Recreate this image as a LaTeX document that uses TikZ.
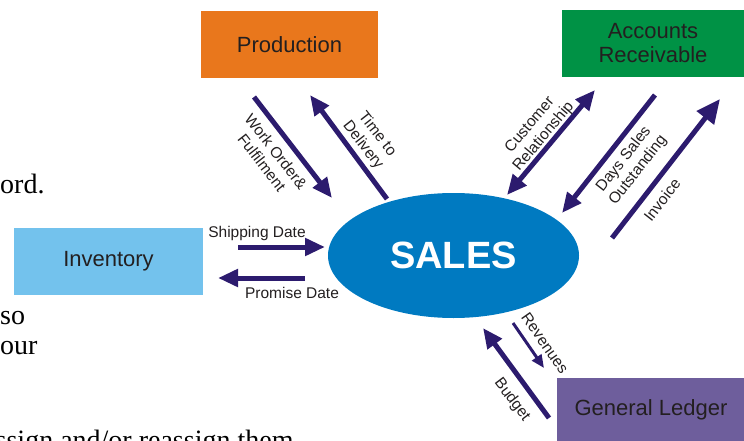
\documentclass[tikz,border=0pt]{standalone}
\usepackage{fontspec}
\setmainfont{Liberation Sans}
\newfontfamily\pageserif{Liberation Serif}
\usetikzlibrary{arrows.meta,positioning,shapes.geometric}
\definecolor{salesBlue}{RGB}{0, 122, 193}
\definecolor{salesOrange}{RGB}{233, 119, 28}
\definecolor{salesGreen}{RGB}{0, 146, 69}
\definecolor{salesLightBlue}{RGB}{115, 194, 237}
\definecolor{salesPurple}{RGB}{110, 94, 156}
\definecolor{salesIndigo}{RGB}{44, 27, 110}
\definecolor{salesText}{RGB}{35, 31, 32}

\begin{document}
\begin{tikzpicture}[
  x=1pt, y=-1pt,
  dept/.style={
    inner sep=0pt,
    align=center,
    text=salesText,
    font=\fontsize{22}{24}\selectfont
  },
  hub/.style={
    ellipse,
    fill=salesBlue,
    inner sep=0pt,
    minimum width=251pt,
    minimum height=125pt,
    text=white,
    font=\fontsize{38}{40}\selectfont\bfseries
  },
  flow/.style={-{Triangle[length=20pt,width=17pt]},line width=5pt,salesIndigo},
  thinflow/.style={-{Triangle[length=13pt,width=11pt]},line width=3pt,salesIndigo},
  flowlabel/.style={inner sep=0pt,align=center,text=salesText,font=\fontsize{15.5}{18}\selectfont},
  pagetext/.style={anchor=base west,inner sep=0pt,font=\pageserif\fontsize{28}{30}\selectfont}
]
  \clip (0,0) rectangle (744,441);

  \node[pagetext] (p1) at (0,193) {ord.};
  \node[pagetext] (p2) at (0,324) {so};
  \node[pagetext] (p3) at (0,354) {our};
  \node[pagetext] (p4) at (-4.5,449) {ssign and/or reassign them};

  \node[dept,fill=salesOrange,minimum width=177pt,minimum height=67pt] (production) at (289.5,44.5) {Production};
  \node[dept,fill=salesGreen,minimum width=182pt,minimum height=67pt] (receivable) at (653,43.5) {Accounts\\Receivable};
  \node[dept,fill=salesLightBlue,minimum width=189pt,minimum height=67pt] (inventory) at (108.5,261.5) {Inventory};
  \node[dept,fill=salesPurple,minimum width=188pt,minimum height=64pt] (ledger) at (651,410) {General Ledger};
  \node[hub] (sales) at (453.5,255.5) {SALES};

  \coordinate (wo-s) at (254,97);  \coordinate (wo-e) at (332,198);
  \coordinate (td-s) at (387,199); \coordinate (td-e) at (310,95);
  \coordinate (cr-s) at (507,195); \coordinate (cr-e) at (595,90);
  \coordinate (ds-s) at (655,95);  \coordinate (ds-e) at (562,213);
  \coordinate (iv-s) at (612,238); \coordinate (iv-e) at (720,99);
  \coordinate (sd-s) at (238,247); \coordinate (sd-e) at (325,247);
  \coordinate (pd-s) at (305,278); \coordinate (pd-e) at (218,278);
  \coordinate (rv-s) at (513,323); \coordinate (rv-e) at (544,368);
  \coordinate (bg-s) at (549,418); \coordinate (bg-e) at (483,328);

  \draw[flow] (wo-s) -- (wo-e);
  \draw[flow] (td-s) -- (td-e);
  \draw[flow,{Triangle[length=20pt,width=17pt]}-{Triangle[length=20pt,width=17pt]}] (cr-s) -- (cr-e);
  \draw[flow] (ds-s) -- (ds-e);
  \draw[flow,-{Triangle[length=24pt,width=21pt]}] (iv-s) -- (iv-e);
  \draw[flow] (sd-s) -- (sd-e);
  \draw[flow] (pd-s) -- (pd-e);
  \draw[thinflow] (rv-s) -- (rv-e);
  \draw[flow] (bg-s) -- (bg-e);

  \node[flowlabel,rotate=-52] (wo) at (269,157) {Work Order\&\\Fulfilment};
  \node[flowlabel,rotate=-52] (td) at (370,140) {Time to\\Delivery};
  \node[flowlabel,rotate=50] (cr) at (537,131) {Customer\\Relationship};
  \node[flowlabel,rotate=52] (ds) at (631,165) {Days Sales\\Outstanding};
  \node[flowlabel,rotate=52] (iv) at (662,200) {Invoice};
  \node[flowlabel] (sd) at (257,233) {Shipping Date};
  \node[flowlabel] (pd) at (292,293) {Promise Date};
  \node[flowlabel,rotate=-55] (rv) at (545,343) {Revenues};
  \node[flowlabel,rotate=-53] (bg) at (512,400) {Budget};
\end{tikzpicture}
\end{document}
